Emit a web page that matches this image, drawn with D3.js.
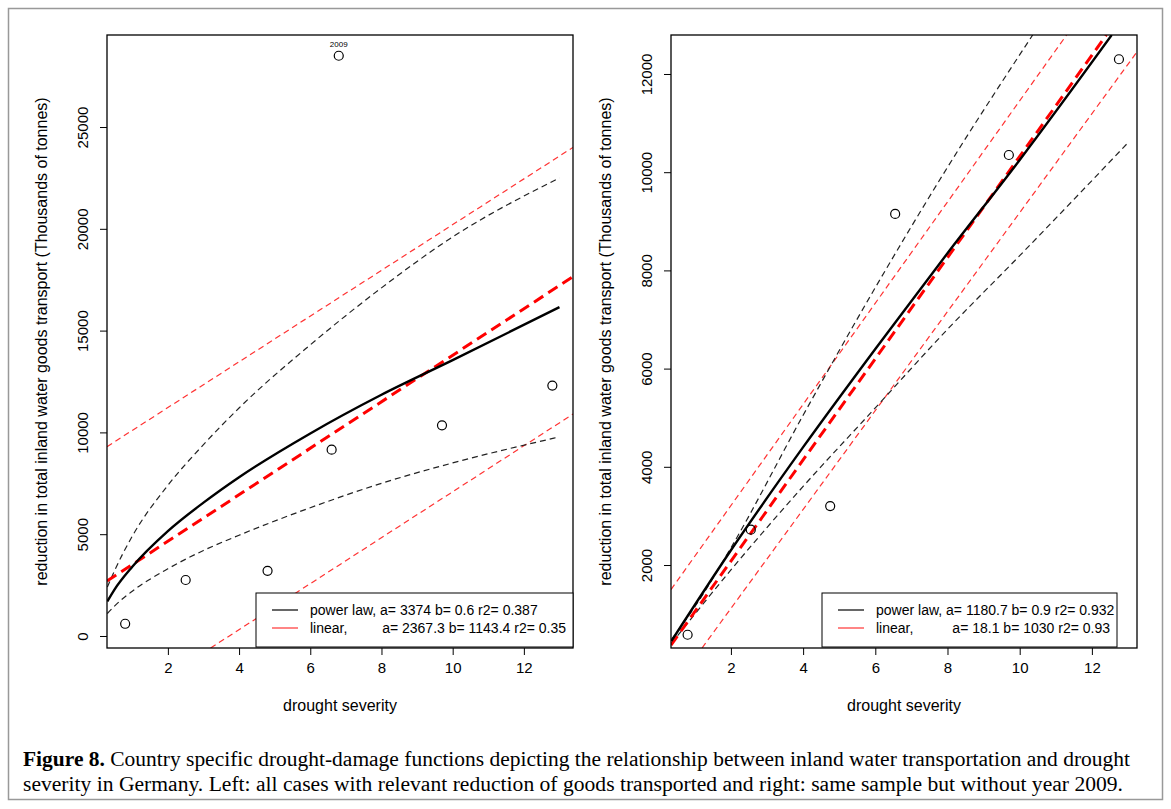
<!DOCTYPE html>
<html>
<head>
<meta charset="utf-8">
<script src="https://d3js.org/d3.v7.min.js"></script>
<style>
body{margin:0;background:#fff;}
text{font-family:"Liberation Sans",Arial,sans-serif;}
.cap{font-family:"Liberation Serif","Times New Roman",serif;font-size:20px;}
</style>
</head>
<body>
<svg id="fig" width="1171" height="809"></svg>
<script>
// observed points
var ptsLeft = [[0.8,600],[2.5,2750],[4.8,3200],[6.6,9150],[6.8,28500],[9.7,10350],[12.8,12300]];
var ptsRight = [[0.8,580],[2.55,2720],[4.75,3200],[6.55,9150],[9.7,10350],[12.75,12300]];

// left panel lines
var L_power = [[0.3,1700],[0.5,2280],[1,3400],[2,5150],[3,6550],[4,7800],[6,9950],[8,11850],[10,13550],[13,16150]];
var L_linear = [[0.29,2700],[13.38,17650]];
var L_powHi = [[0.3,2400],[0.5,3200],[1,4900],[2,7400],[3,9400],[4,11200],[6,14300],[8,17100],[10,19600],[13,22500]];
var L_powLo = [[0.3,1100],[0.5,1470],[1,2200],[2,3300],[3,4200],[4,4950],[6,6300],[8,7500],[10,8500],[13,9780]];
var L_linHi = [[0.29,9300],[13.38,24000]];
var L_linLo = [[3.2,-590],[13.38,10900]];

// right panel lines
var R_power = [[0.35,450],[2,2300],[4,4400],[6,6400],[8,8350],[10,10250],[12.55,12794]];
var R_linear = [[0.34,370],[12.4,12794]];
var R_powHi = [[0.35,480],[1,1150],[2,2350],[4,5050],[6,7650],[8,10100],[10.36,12794]];
var R_powLo = [[0.35,400],[1,1000],[2,1900],[4,3600],[6,5200],[8,6800],[10,8300],[13,10600]];
var R_linHi = [[0.34,1500],[11.3,12794]];
var R_linLo = [[1.2,310],[13.25,12450]];

var xTicks = [2,4,6,8,10,12];
var yTicksLeft = [0,5000,10000,15000,20000,25000];
var yTicksRight = [2000,4000,6000,8000,10000,12000];

var svg = d3.select("#fig");
svg.append("rect").attr("x",8.5).attr("y",8.5).attr("width",1154).attr("height",791)
  .attr("fill","none").attr("stroke","#999").attr("stroke-width",1.5);

function panel(o){
  var g = svg.append("g");
  var x = d3.scaleLinear().domain(o.xd).range([o.x0,o.x1]);
  var y = d3.scaleLinear().domain(o.yd).range([o.y1,o.y0]);
  var clipId = "clip"+o.id;
  g.append("clipPath").attr("id",clipId).append("rect")
    .attr("x",o.x0).attr("y",o.y0).attr("width",o.x1-o.x0).attr("height",o.y1-o.y0);
  var line = d3.line().x(function(d){return x(d[0]);}).y(function(d){return y(d[1]);}).curve(d3.curveMonotoneX);
  var lg = g.append("g").attr("clip-path","url(#"+clipId+")");
  function draw(data,col,w,dash){
    lg.append("path").datum(data).attr("d",line).attr("fill","none")
      .attr("stroke",col).attr("stroke-width",w).attr("stroke-dasharray",dash);
  }
  draw(o.linHi,"#f33",1.2,"6,4");
  draw(o.linLo,"#f33",1.2,"6,4");
  draw(o.powHi,"#222",1.2,"6,4");
  draw(o.powLo,"#222",1.2,"6,4");
  draw(o.linear,"#f00",3,"11,6");
  draw(o.power,"#000",2.4,null);

  g.selectAll("circle").data(o.pts).enter().append("circle")
    .attr("cx",function(d){return x(d[0]);}).attr("cy",function(d){return y(d[1]);})
    .attr("r",4.5).attr("fill","none").attr("stroke","#000").attr("stroke-width",1.2);
  if(o.label){
    g.append("text").attr("x",x(o.label[0])).attr("y",y(o.label[1])-9)
      .attr("text-anchor","middle").attr("font-size",8).text(o.label[2]);
  }

  // axes
  var xa = g.append("g").attr("transform","translate(0,"+o.y1+")")
    .call(d3.axisBottom(x).tickValues(xTicks).tickSize(7).tickPadding(7));
  var ya = g.append("g").attr("transform","translate("+o.x0+",0)")
    .call(d3.axisLeft(y).tickValues(o.yTicks).tickSize(7).tickFormat(d3.format("d")));
  [xa,ya].forEach(function(a){
    a.select(".domain").remove();
    a.selectAll("line").attr("stroke","#000");
    a.selectAll("text").attr("font-size",15).attr("fill","#000")
      .attr("font-family","Liberation Sans,Arial,sans-serif");
  });
  ya.selectAll("text").attr("text-anchor","middle").attr("dy",0).attr("x",0).attr("y",0)
    .attr("transform","translate(-19,0) rotate(-90)");

  g.append("rect").attr("x",o.x0).attr("y",o.y0).attr("width",o.x1-o.x0).attr("height",o.y1-o.y0)
    .attr("fill","none").attr("stroke","#000").attr("stroke-width",1.3);

  g.append("text").attr("x",(o.x0+o.x1)/2).attr("y",o.y1+63).attr("text-anchor","middle")
    .attr("font-size",16).text("drought severity");
  g.append("text").attr("transform","translate("+(o.x0-60)+","+((o.y0+o.y1)/2)+") rotate(-90)")
    .attr("text-anchor","middle").attr("font-size",16)
    .text("reduction in total inland water goods transport (Thousands of tonnes)");

  // legend
  var lgd = g.append("g");
  lgd.append("rect").attr("x",o.lx).attr("y",o.y1-55).attr("width",o.lw).attr("height",54)
    .attr("fill","#fff").attr("stroke","#000").attr("stroke-width",1);
  [["#000",o.leg[0],o.leg[1]],["#f33",o.leg[2],o.leg[3]]].forEach(function(r,i){
    var yy = o.y1-38+i*18;
    lgd.append("line").attr("x1",o.lx+16).attr("x2",o.lx+42).attr("y1",yy).attr("y2",yy)
      .attr("stroke",r[0]).attr("stroke-width",1.2);
    lgd.append("text").attr("x",o.lx+54).attr("y",yy+5).attr("font-size",14).text(r[1]);
    lgd.append("text").attr("x",o.lx+o.lw-7).attr("y",yy+5).attr("font-size",14)
      .attr("text-anchor","end").text(r[2]);
  });
}

panel({id:"L",x0:107,x1:573,y0:35,y1:648,xd:[0.29,13.38],yd:[-590,29520],
  yTicks:yTicksLeft,pts:ptsLeft,label:[6.8,28500,"2009"],
  power:L_power,linear:L_linear,powHi:L_powHi,powLo:L_powLo,linHi:L_linHi,linLo:L_linLo,
  lx:256,lw:317,leg:["power law, a= 3374 b= 0.6 r2= 0.387","","linear,","a= 2367.3 b= 1143.4 r2= 0.35"]});
panel({id:"R",x0:671,x1:1137,y0:35,y1:648,xd:[0.34,13.25],yd:[310,12794],
  yTicks:yTicksRight,pts:ptsRight,
  power:R_power,linear:R_linear,powHi:R_powHi,powLo:R_powLo,linHi:R_linHi,linLo:R_linLo,
  lx:822,lw:295,leg:["power law, a= 1180.7 b= 0.9 r2= 0.932","","linear,","a= 18.1 b= 1030 r2= 0.93"]});

var cap = svg.append("text").attr("class","cap").attr("x",23).attr("y",766)
  .attr("textLength",1107).attr("lengthAdjust","spacingAndGlyphs");
cap.append("tspan").attr("font-weight","bold").text("Figure 8.");
cap.append("tspan").text(" Country specific drought-damage functions depicting the relationship between inland water transportation and drought");
svg.append("text").attr("class","cap").attr("x",23).attr("y",791)
  .attr("textLength",1100).attr("lengthAdjust","spacingAndGlyphs")
  .text("severity in Germany. Left: all cases with relevant reduction of goods transported and right: same sample but without year 2009.");
</script>
</body>
</html>
